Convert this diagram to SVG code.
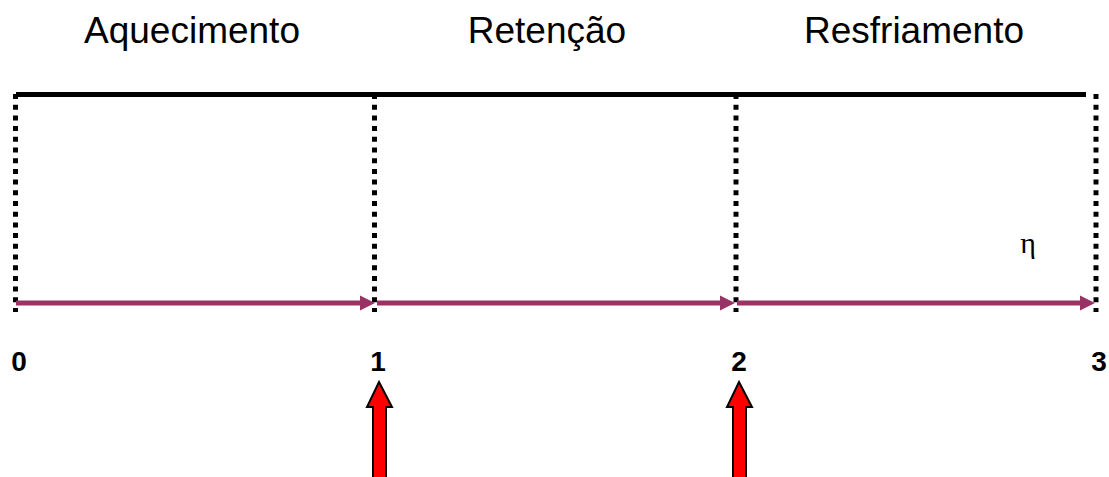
<svg xmlns="http://www.w3.org/2000/svg" width="1109" height="477" viewBox="0 0 1109 477">
<style>
.title{font-family:"Liberation Sans",Arial,sans-serif;font-size:37px;fill:#000;text-anchor:middle}
.num{font-family:"Liberation Sans",Arial,sans-serif;font-size:28px;font-weight:bold;fill:#000;text-anchor:middle}
.eta{font-family:"Liberation Serif","Times New Roman",serif;font-size:30px;fill:#000;text-anchor:middle}
.dash{stroke:#000;stroke-width:5;stroke-dasharray:5 5.7;fill:none}
.flow{stroke:#993366;stroke-width:5;fill:none}
.head{fill:#993366}
.red{fill:#ff0000;stroke:#000;stroke-width:2;stroke-linejoin:miter}
</style>
<rect width="1109" height="477" fill="#fff"/>
<g id="labels">
<text class="title" x="192" y="43">Aquecimento</text>
<text class="title" x="547" y="43">Retenção</text>
<text class="title" x="914" y="43">Resfriamento</text>
<text class="eta" x="1028" y="253">η</text>
<text class="num" x="19" y="371">0</text>
<text class="num" x="378" y="371">1</text>
<text class="num" x="739" y="371">2</text>
<text class="num" x="1099" y="371">3</text>
</g>
<g id="frame">
<line x1="16" y1="94.5" x2="1086" y2="94.5" stroke="#000" stroke-width="5"/>
<line class="dash" x1="15.5" y1="94" x2="15.5" y2="312"/>
<line class="dash" x1="374.5" y1="94" x2="374.5" y2="312"/>
<line class="dash" x1="736" y1="94" x2="736" y2="312"/>
<line class="dash" x1="1096" y1="94" x2="1096" y2="312"/>
</g>
<g id="connectors">
<line class="flow" x1="16" y1="303" x2="362" y2="303"/>
<polygon class="head" points="360,295.5 375,303 360,310.5"/>
<line class="flow" x1="377" y1="303" x2="722" y2="303"/>
<polygon class="head" points="720,295.5 735,303 720,310.5"/>
<line class="flow" x1="737" y1="303" x2="1082" y2="303"/>
<polygon class="head" points="1080,295.5 1095,303 1080,310.5"/>
</g>
<g id="arrow1">
<polygon class="red" points="379,382 392,407 386,407 386,480 373,480 373,407 367,407"/>
</g>
<g id="arrow2">
<polygon class="red" points="739,382 752,407 746,407 746,480 733,480 733,407 727,407"/>
</g>
</svg>
